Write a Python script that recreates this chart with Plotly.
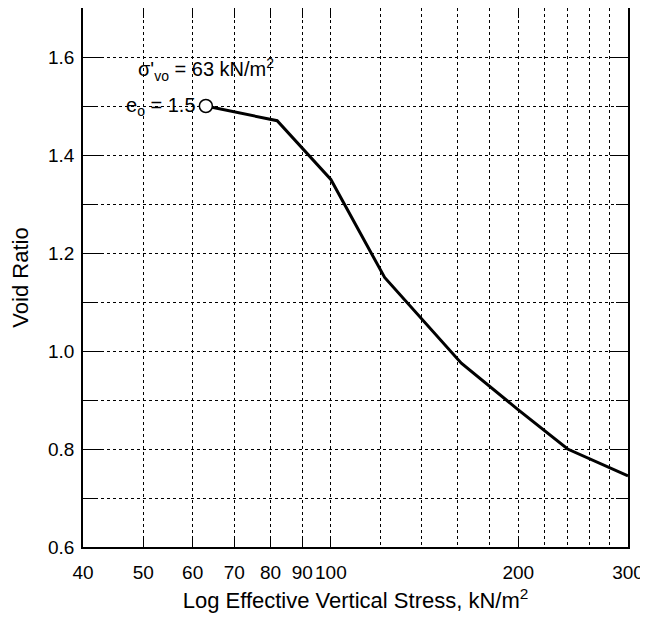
import numpy as np
import plotly.graph_objects as go

# void ratio vs effective vertical stress (kN/m2)
stress = [63, 82, 100, 122, 162, 200, 240, 300]
void_ratio = [1.50, 1.47, 1.35, 1.15, 0.975, 0.88, 0.80, 0.745]

x_major = [40, 50, 60, 70, 80, 90, 100, 200, 300]
x_minor = [120, 140, 160, 180, 220, 240, 260, 280]
y_major = [0.6, 0.8, 1.0, 1.2, 1.4, 1.6]

sigma_vo = 63
e_o = 1.5

fig = go.Figure()
fig.add_trace(go.Scatter(x=stress, y=void_ratio, mode="lines",
                         line=dict(color="black", width=3), showlegend=False))
fig.add_trace(go.Scatter(x=[sigma_vo], y=[e_o], mode="markers",
                         marker=dict(symbol="circle", size=13, color="white",
                                     line=dict(color="black", width=1.5)),
                         showlegend=False))

fig.add_annotation(x=np.log10(sigma_vo), y=e_o, xref="x", yref="y",
                   text="e<sub>o</sub> = 1.5", showarrow=False,
                   xanchor="right", xshift=-8, font=dict(size=20))
fig.add_annotation(x=np.log10(sigma_vo), y=e_o, xref="x", yref="y",
                   text="σ'<sub>vo</sub> = 63 kN/m<sup>2</sup>", showarrow=False,
                   xanchor="center", yshift=37, font=dict(size=20))

fig.update_xaxes(type="log", range=[np.log10(40), np.log10(300)],
                 tickvals=x_major, ticktext=[str(v) for v in x_major],
                 tickfont=dict(size=19), tickangle=0,
                 ticks="inside", ticklen=10, tickcolor="black",
                 ticklabelstandoff=7,
                 showline=True, linecolor="black", linewidth=1.5, mirror="ticks",
                 showgrid=True, gridcolor="black", griddash="dot", gridwidth=1,
                 minor=dict(tickvals=x_minor, showgrid=True, gridcolor="black",
                            griddash="dot", gridwidth=1, ticks=""),
                 zeroline=False, automargin=False, ticklabeloverflow="allow",
                 title=dict(text="Log Effective Vertical Stress, kN/m<sup>2</sup>",
                            font=dict(size=22), standoff=11))
fig.update_yaxes(range=[0.6, 1.7], tickvals=y_major, tickformat=".1f",
                 tickfont=dict(size=19),
                 ticks="inside", ticklen=18, tickcolor="black",
                 ticklabelstandoff=3,
                 showline=True, linecolor="black", linewidth=1.5, mirror="ticks",
                 showgrid=True, gridcolor="black", griddash="dot", gridwidth=1,
                 minor=dict(dtick=0.1, showgrid=True, gridcolor="black",
                            griddash="dot", gridwidth=1, ticks="inside",
                            ticklen=12, tickcolor="black"),
                 zeroline=False, automargin=False,
                 title=dict(text="Void Ratio", font=dict(size=22), standoff=16))

# the page body has an 8px margin, so the figure is 8px smaller on each side
fig.update_layout(width=640, height=616, template="none",
                  margin=dict(l=75, r=20, t=0, b=77),
                  plot_bgcolor="white", paper_bgcolor="white",
                  font=dict(family="Liberation Sans, Arial", size=18, color="black"))

fig.write_html("out.html")
